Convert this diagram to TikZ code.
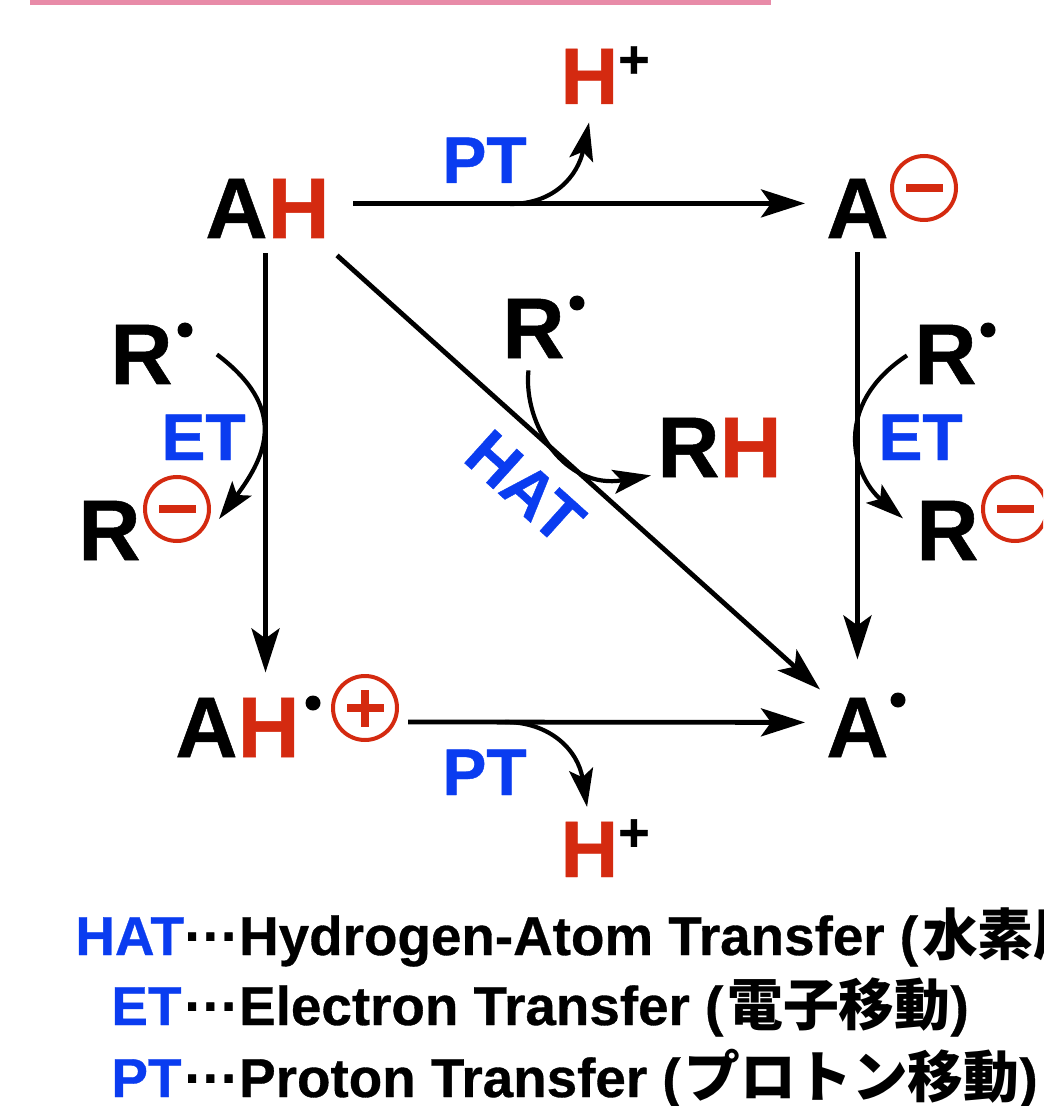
\documentclass[tikz,border=0pt]{standalone}
\usepackage{fontspec}
\setmainfont{Liberation Sans}[BoldFeatures = {FakeBold = 0.6}]
\newfontfamily\cjk{Noto Sans CJK JP}
\usetikzlibrary{arrows.meta}
\definecolor{hatblue}{HTML}{0A3CF0}
\definecolor{atomred}{HTML}{D42A10}
\definecolor{barpink}{HTML}{E88BA8}
\newcommand{\redH}{\textcolor{atomred}{H}}
\newcommand{\hplus}{\redH\raisebox{13pt}{\fontsize{27}{27}\selectfont +}}
\newcommand{\kanji}[1]{{\fontsize{27.9}{27.9}\selectfont\cjk #1}}
\tikzset{
	species/.style = {anchor = base west, inner sep = 0pt, font = \fontsize{43}{43}\selectfont\bfseries},
	smallspecies/.style = {species, font = \fontsize{40}{40}\selectfont\bfseries},
	tag/.style = {anchor = base west, inner sep = 0pt, text = hatblue, font = \fontsize{33}{33}\selectfont\bfseries},
	legend/.style = {anchor = base west, inner sep = 0pt, font = \fontsize{27.4}{27.4}\selectfont\bfseries},
	radical/.style = {circle, fill = black, inner sep = 0pt, minimum size = 7.5pt},
	charge/.style = {circle, draw = atomred, line width = 2pt, inner sep = 0pt, minimum size = 32pt},
	chargebar/.style = {atomred, line width = 3.6pt},
	rxn/.style = {line width = 2.4pt, -{Stealth[length = 22pt, width = 14pt, inset = 5pt]}},
	branch/.style = {line width = 2.1pt, -{Stealth[length = 19pt, width = 12pt, inset = 4pt]}}
}
\begin{document}
\begin{tikzpicture}[x = 0.5pt, y = -0.5pt]
	\useasboundingbox (0,0) rectangle (1043,1106);
	\clip (0,0) rectangle (1043,1106);
	\fill [barpink] (30,-5) rectangle (771,5);
	% species
	\node [species] (AH) at (205,238) {A\redH};
	\node [species] (Am) at (826,238) {A};
	\node [charge] (Amc) at (924,188) {};
	\node [species] (AHp) at (175,757) {A\redH};
	\node [radical] (AHr) at (313,703) {};
	\node [charge] (AHc) at (365,708) {};
	\node [species] (Ar) at (826,757) {A};
	\node [radical] (Arr) at (898,700) {};
	\node [smallspecies] (Htop) at (560,104) {\hplus};
	\node [smallspecies] (Hbot) at (560,877) {\hplus};
	\node [species] (Rl) at (110,384) {R};
	\node [radical] (Rlr) at (185,330) {};
	\node [species] (Rlm) at (78,560) {R};
	\node [charge] (Rlc) at (177,509) {};
	\node [species] (Rc) at (502,358) {R};
	\node [radical] (Rcr) at (577,303) {};
	\node [species] (RH) at (657,477) {R\redH};
	\node [species] (Rr) at (914,384) {R};
	\node [radical] (Rrr) at (988,330) {};
	\node [species] (Rrm) at (916,560) {R};
	\node [charge] (Rrc) at (1015,509) {};
	% charges
	\draw [chargebar] (Amc.center) ++(-18,0) -- ++(37,0);
	\draw [chargebar] (Rlc.center) ++(-18,0) -- ++(37,0);
	\draw [chargebar] (Rrc.center) ++(-18,0) -- ++(37,0);
	\draw [chargebar] (AHc.center) ++(-18,0) -- ++(37,0);
	\draw [chargebar] (AHc.center) ++(0,-18) -- ++(0,37);
	% square
	\draw [rxn] ([shift = {(23,-5)}]AH.east) -- ([shift = {(-21,-5)}]Am.west);
	\draw [rxn] ([shift = {(-2,15)}]AH.south) -- ([shift = {(28,-25)}]AHp.north);
	\draw [rxn] ([shift = {(0,14)}]Am.south) -- ([shift = {(0,-38)}]Ar.north);
	\draw [rxn] ([shift = {(7,17)}]AH.south east) -- ([shift = {(-6,-8)}]Ar.north west);
	\draw [rxn] ([shift = {(9,14)}]AHc.east) -- ([shift = {(-21,-5)}]Ar.west);
	% branches
	\coordinate (PTa) at (510,204);
	\coordinate (PTb) at (505,722);
	\draw [branch] (PTa) .. controls (555,204) and (578,175) .. ([shift = {(-16,18)}]Htop.south);
	\draw [branch] (PTb) .. controls (550,722) and (578,750) .. ([shift = {(-18,-12)}]Hbot.north);
	\draw [branch] ([shift = {(44,30)}]Rl.north east) .. controls (288,408) and (267,455) .. ([shift = {(18,-14)}]Rlc.south east);
	\draw [branch] ([shift = {(-7,31)}]Rr.north west) .. controls (832,405) and (852,475) .. ([shift = {(-13,-12)}]Rrm.west);
	\draw [branch] ([shift = {(-5,12)}]Rc.south) .. controls (523,425) and (565,490) .. ([shift = {(-6,28)}]RH.west);
	% labels
	\node [tag] (PTt) at (442,183) {PT};
	\node [tag] (PTu) at (442,795) {PT};
	\node [tag] (ETl) at (161,460) {ET};
	\node [tag] (ETr) at (878,460) {ET};
	\node [tag, anchor = center, rotate = -42] (HATd) at (525,487) {HAT};
	% legend
	\node [legend, text = hatblue] (lgHAT) at (75,955) {HAT};
	\node [legend] (lgHATt) at (184,955) {···Hydrogen-Atom Transfer (\hspace{2pt}\kanji{水素原}};
	\node [legend, text = hatblue] (lgET) at (111,1025) {ET};
	\node [legend] (lgETt) at (184,1025) {···Electron Transfer (\hspace{2pt}\kanji{電子移動})};
	\node [legend, text = hatblue] (lgPT) at (111,1097) {PT};
	\node [legend] (lgPTt) at (184,1097) {···Proton Transfer (\hspace{2pt}\kanji{プロトン移動})};
\end{tikzpicture}
\end{document}
